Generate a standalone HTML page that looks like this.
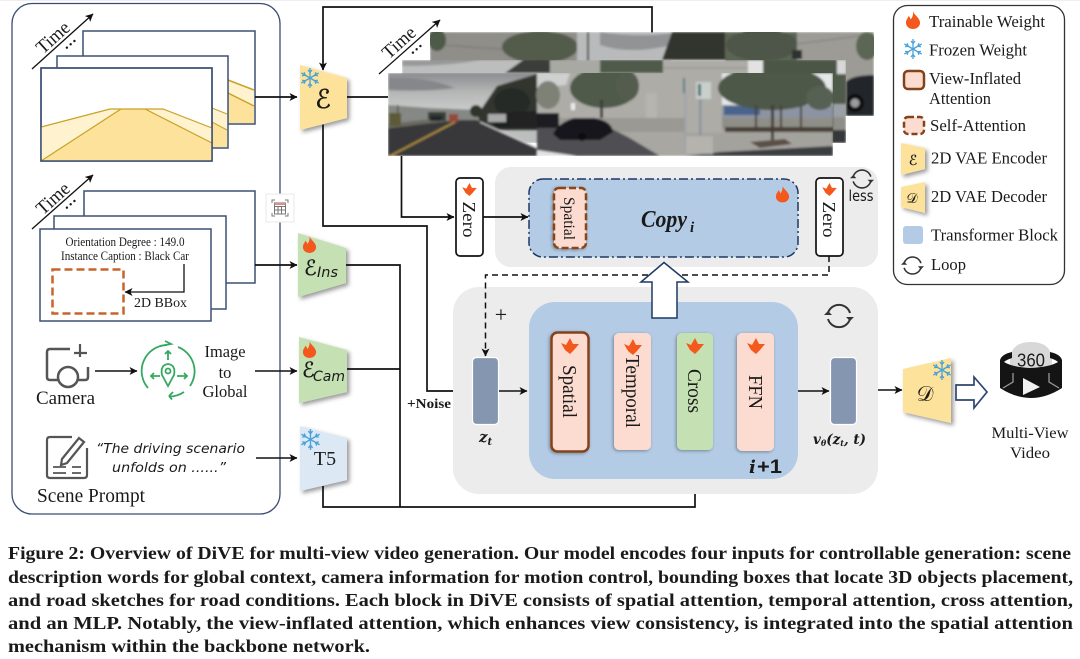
<!DOCTYPE html>
<html><head><meta charset="utf-8"><style>
html,body{margin:0;padding:0;background:#fff;width:1080px;height:659px;overflow:hidden}
svg{display:block;filter:blur(.35px)}
text{font-family:"Liberation Serif",serif;fill:#1a1a1a}
</style></head><body>
<svg width="1080" height="659" viewBox="0 0 1080 659" xmlns="http://www.w3.org/2000/svg">
<defs>
<marker id="a" markerWidth="10" markerHeight="10" refX="7.500" refY="4" orient="auto" markerUnits="userSpaceOnUse"><path d="M0 0L8 4L0 8L2 4Z" fill="#111"/></marker>
<symbol id="fl" viewBox="0 0 16 18" overflow="visible"><path d="M8 0C9 4 14 6 15 11C15.500 15 12 18 8 18C4 18 .5 15 1 11C1.300 8.500 3 7 3.500 5C5 6 5.500 7.500 5.500 8.500C7.500 6.500 8.500 3.500 8 0Z" fill="#f4581c"/></symbol>
<symbol id="fl2" viewBox="0 0 18 16" overflow="visible"><path d="M0 5L5 7L9 0L12 6L18 6L13 12L9 16L4 12Z" fill="#f4581c"/></symbol>
<symbol id="sn" viewBox="-10 -10 20 20" overflow="visible"><g stroke="#4aa3d8" stroke-width="1.300" fill="none"><path d="M0-10V10M-2-8L0-5.500L2-8M-2 8L0 5.500L2 8"/><path transform="rotate(60)" d="M0-10V10M-2-8L0-5.500L2-8M-2 8L0 5.500L2 8"/><path transform="rotate(120)" d="M0-10V10M-2-8L0-5.500L2-8M-2 8L0 5.500L2 8"/></g></symbol>
<symbol id="lp" viewBox="-15 -15 30 30" overflow="visible"><g fill="none" stroke="#333" stroke-width="2"><path d="M-11 -3A11.500 11.500 0 0 1 11 -3"/><path d="M11 3A11.500 11.500 0 0 1 -11 3"/></g><path d="M-15 -1L-11 -5L-7 -1ZM15 1L11 5L7 1Z" fill="#333"/></symbol>
<filter id="s" x="-20%" y="-20%" width="150%" height="150%"><feDropShadow dx="2.500" dy="2.500" stdDeviation="2" flood-color="#000" flood-opacity=".4"/></filter>
<filter id="s2" x="-30%" y="-20%" width="160%" height="140%"><feDropShadow dx="-1" dy="1" stdDeviation="1.500" flood-color="#000" flood-opacity=".35"/></filter>
<filter id="b1" x="-2%" y="-5%" width="104%" height="110%"><feGaussianBlur stdDeviation="1"/></filter>
<linearGradient id="sky" x1="0" y1="0" x2="0" y2="1"><stop offset="0" stop-color="#8a8c8e"/><stop offset=".35" stop-color="#b5b6b6"/><stop offset="1" stop-color="#dedede"/></linearGradient>
<clipPath id="cf"><rect x="388" y="73" width="445" height="83"/></clipPath>
<clipPath id="cm"><rect x="402" y="60" width="444" height="83"/></clipPath>
<clipPath id="cb"><rect x="430" y="32" width="444" height="84"/></clipPath>
</defs>
<rect width="1080" height="1" fill="#eee"/>

<!-- left panel -->
<rect x="12" y="3.500" width="268" height="510.500" rx="20" fill="#fff" stroke="#3a4d73" stroke-width="1.300"/>

<!-- road stacks -->
<g stroke="#3d5074" stroke-width="1.500">
<rect x="83" y="31" width="172" height="93" fill="#fff"/>
<path d="M228 80L254 90V123H228Z" fill="#fde29c" stroke="none"/>
<path d="M228 80L254 90V106L228 93Z" fill="#fef2cf" stroke="none"/>
<path d="M228 80L254 90M228 93L254 106" stroke="#c9a227" fill="none"/>
<rect x="57" y="56" width="171" height="92" fill="#fff"/>
<path d="M212 108L227 114V147H212Z" fill="#fde29c" stroke="none"/>
<path d="M212 108L227 114V130L212 122Z" fill="#fef2cf" stroke="none"/>
<path d="M212 108L227 114M212 122L227 130" stroke="#c9a227" fill="none" stroke-width="1"/>
<rect x="41" y="68" width="171" height="93" fill="#fff"/>
</g>
<path d="M41 127L110 109H163L212 128V143L145 109H121L41 161Z" fill="#fef2cf"/>
<path d="M41 161L121 109H145L212 143V161Z" fill="#fde29c"/>
<path d="M41 127L110 109H163L212 128M41 161L121 109H145L212 143" fill="none" stroke="#c9a227" stroke-width="1.200"/>
<rect x="41" y="68" width="171" height="93" fill="none" stroke="#3d5074" stroke-width="1.500"/>

<line x1="32" y1="69" x2="93" y2="14" stroke="#111" stroke-width="1.300" marker-end="url(#a)"/>
<text transform="translate(57,42) rotate(-42)" font-size="19" text-anchor="middle" textLength="38" lengthAdjust="spacingAndGlyphs">Time</text>
<text transform="translate(74,48) rotate(-42)" font-size="15" text-anchor="middle" font-weight="bold">···</text>

<line x1="32" y1="229" x2="93" y2="175" stroke="#111" stroke-width="1.300" marker-end="url(#a)"/>
<text transform="translate(57,203) rotate(-42)" font-size="19" text-anchor="middle" textLength="38" lengthAdjust="spacingAndGlyphs">Time</text>
<text transform="translate(74,208) rotate(-42)" font-size="15" text-anchor="middle" font-weight="bold">···</text>

<g fill="#fff" stroke="#3d5074" stroke-width="1.500">
<rect x="84" y="191" width="171" height="92"/>
<rect x="54" y="216" width="172" height="93"/>
<rect x="40" y="229" width="171" height="92"/>
</g>
<text x="125" y="246" font-size="12.500" text-anchor="middle" textLength="119" lengthAdjust="spacingAndGlyphs">Orientation Degree : 149.0</text>
<text x="125" y="260" font-size="12.500" text-anchor="middle" textLength="128" lengthAdjust="spacingAndGlyphs">Instance Caption : Black Car</text>
<rect x="52.500" y="269.500" width="71" height="44" fill="none" stroke="#c8642a" stroke-width="2.500" stroke-dasharray="8 4"/>
<path d="M184 264V292H125" fill="none" stroke="#111" stroke-width="1.300" marker-end="url(#a)"/>
<text x="134" y="307" font-size="14" textLength="53" lengthAdjust="spacingAndGlyphs">2D BBox</text>

<!-- calc icon -->
<rect x="266" y="194" width="28" height="28" fill="#fff" stroke="#e8e8e8"/>
<g fill="none" stroke="#777" stroke-width="1"><path d="M272 203V200H275M285 200H288V203M288 213V216H285M275 216H272V213"/><rect x="274.500" y="203" width="11" height="11"/><path d="M274.500 206.500H285.500M274.500 210H285.500M278 206.500V214M281.500 206.500V214"/></g>
<rect x="274.500" y="203" width="11" height="2" fill="#e58a8a"/>

<!-- camera -->
<g fill="none" stroke="#555" stroke-width="2.500">
<path d="M70 349H50Q47 349 47 352V377Q47 380 50 380H59M78 380H85Q88 380 88 377V367"/>
<circle cx="68" cy="377" r="10"/>
<path d="M80 345V358M74 354H87" stroke-width="2.200" transform="translate(0,-1)"/>
</g>
<text x="65.500" y="404" font-size="19" text-anchor="middle" textLength="59" lengthAdjust="spacingAndGlyphs">Camera</text>
<line x1="95" y1="371" x2="137" y2="371" stroke="#111" stroke-width="1.500" marker-end="url(#a)"/>
<!-- global -->
<g fill="none" stroke="#35a862" stroke-width="1.800">
<path d="M148 388A26 26 0 0 1 167 345"/>
<path d="M178 347A26 26 0 0 1 190 386M169 396.500A26 26 0 0 0 184 392"/>
<path d="M160 346L171 344L165 341M169 396L172 399.500M169 396L173 392"/>
<path d="M168 360V351M165 354L168 351L171 354M160 376H151M154 373L151 376L154 379M177 376H187M184 373L187 376L184 379"/>
<path d="M168 386L162 375Q160 365 168 364Q176 365 174 375Z"/><circle cx="168" cy="371" r="2.500"/>
</g>
<text x="225" y="357" font-size="16.500" text-anchor="middle" textLength="41" lengthAdjust="spacingAndGlyphs">Image</text>
<text x="225" y="378" font-size="16.500" text-anchor="middle">to</text>
<text x="225" y="397" font-size="16.500" text-anchor="middle" textLength="45" lengthAdjust="spacingAndGlyphs">Global</text>
<line x1="255" y1="371" x2="297" y2="371" stroke="#111" stroke-width="1.500" marker-end="url(#a)"/>
<!-- prompt -->
<g fill="none" stroke="#555" stroke-width="2.200">
<path d="M72 437H50Q47 437 47 440V475Q47 478 50 478H84Q87 478 87 475V448"/>
<path d="M62 459L79 438L84 442L67 463L61 465Z" fill="#fff"/>
<path d="M53 467H66M72 467H81M53 473H66M72 473H81" stroke-width="1.700"/>
</g>
<text x="96" y="453" font-size="13" style="font-family:'DejaVu Sans',sans-serif;font-style:italic" textLength="149" lengthAdjust="spacingAndGlyphs">“The driving scenario</text>
<text x="112" y="472" font-size="13" style="font-family:'DejaVu Sans',sans-serif;font-style:italic" textLength="114" lengthAdjust="spacingAndGlyphs">unfolds on ......”</text>
<text x="37" y="502" font-size="20" textLength="108" lengthAdjust="spacingAndGlyphs">Scene Prompt</text>
<line x1="256" y1="458" x2="297" y2="458" stroke="#111" stroke-width="1.500" marker-end="url(#a)"/>

<!-- encoders -->
<g filter="url(#s)">
<path d="M300 65L347 78V118L300 130Z" fill="#fde29c"/>
<path d="M298 233L346 248V283L298 297Z" fill="#c5e0b3"/>
<path d="M299 337L347 350V392L299 403Z" fill="#c5e0b3"/>
<path d="M300 426L347 438V480L300 491Z" fill="#dce9f5"/>
</g>
<!-- connectors -->
<g fill="none" stroke="#111" stroke-width="1.700">
<path d="M652 33V7H323V70" marker-end="url(#a)"/>
<path d="M323 124.500V226H427V391H470" marker-end="url(#a)"/>
<path d="M347 97H388"/>
<path d="M255 97H297" marker-end="url(#a)"/>
<path d="M255 265H297" marker-end="url(#a)"/>
<path d="M346 265H400V507"/>
<path d="M347 369H400"/>
<path d="M323 486V507H695V452" marker-end="url(#a)"/>
</g>
<use href="#sn" x="300" y="68" width="20" height="20"/>
<use href="#fl" x="302" y="236" width="15" height="17"/>
<use href="#fl" x="302" y="341" width="15" height="17"/>
<use href="#sn" x="300" y="429" width="21" height="21"/>
<text x="323" y="108" font-size="26" text-anchor="middle" style="font-family:'DejaVu Sans',sans-serif" stroke="#111" stroke-width=".4">ℰ</text>
<text x="304" y="275" font-size="21" style="font-family:'DejaVu Sans',sans-serif" stroke="#111" stroke-width=".3">ℰ</text>
<text x="317" y="277" font-size="14" style="font-family:'DejaVu Sans',sans-serif;font-style:italic" textLength="21" lengthAdjust="spacingAndGlyphs">Ins</text>
<text x="302" y="377" font-size="21" style="font-family:'DejaVu Sans',sans-serif" stroke="#111" stroke-width=".3">ℰ</text>
<text x="313" y="381" font-size="14" style="font-family:'DejaVu Sans',sans-serif;font-style:italic" textLength="32" lengthAdjust="spacingAndGlyphs">Cam</text>
<text x="325" y="465" font-size="20" text-anchor="middle">T5</text>
<text x="407" y="408" font-size="14" font-weight="bold" textLength="44" lengthAdjust="spacingAndGlyphs">+Noise</text>

<!-- photo stack: back layer -->
<g clip-path="url(#cb)"><g filter="url(#b1)">
<rect x="430" y="32" width="147" height="84" fill="#8f8e88"/>
<path d="M430 44L540 52" stroke="#77766f" stroke-width="1"/>
<ellipse cx="540" cy="47" rx="38" ry="16" fill="#525c4c"/>
<ellipse cx="437" cy="40" rx="9" ry="11" fill="#4e5a47"/>
<rect x="577" y="32" width="95" height="84" fill="#b9babb"/>
<path d="M600 32Q640 38 672 33V45Q630 55 600 45Z" fill="#929394"/>
<rect x="587" y="32" width="2" height="30" fill="#4d4a44"/>
<path d="M662 60L672 32H726V60Z" fill="#33362f"/>
<rect x="725" y="32" width="72" height="84" fill="#5b6555"/>
<ellipse cx="762" cy="45" rx="36" ry="16" fill="#4d5749"/>
<rect x="797" y="32" width="77" height="84" fill="#9c9b95"/>
<path d="M797 44L874 34" stroke="#7f7e78" stroke-width="1"/>
<rect x="792" y="50" width="10" height="9" fill="#2f302d"/>
<ellipse cx="867" cy="46" rx="11" ry="14" fill="#5c6655"/>
<path d="M846 82Q852 75 874 75V116H846Z" fill="#24272a"/>
<circle cx="855" cy="103" r="9" fill="#111"/><circle cx="855" cy="103" r="4.500" fill="#9c9c9c"/>
</g></g>
<!-- middle layer -->
<g clip-path="url(#cm)"><g filter="url(#b1)">
<rect x="402" y="60" width="148" height="83" fill="#bcbdbd"/>
<path d="M402 60H480Q450 66 402 66Z" fill="#97999a"/>
<path d="M505 73L523 60H550V73Z" fill="#3a3d3a"/>
<rect x="550" y="60" width="113" height="83" fill="#a9a9a4"/>
<rect x="600" y="60" width="63" height="13" fill="#4f5a4b"/>
<rect x="663" y="60" width="85" height="83" fill="#adaca7"/>
<path d="M663 68H748" stroke="#8f8e88"/>
<rect x="748" y="60" width="16" height="83" fill="#e2e2e2"/>
<rect x="763" y="60" width="74" height="83" fill="#4c5647"/>
<rect x="837" y="60" width="9" height="14" fill="#d8d8d8"/>
<rect x="833" y="74" width="13" height="30" fill="#4f5a4b"/>
<rect x="833" y="104" width="13" height="13" fill="#9aa0a6"/>
<rect x="833" y="117" width="13" height="13" fill="#8f8f88"/>
<rect x="833" y="130" width="13" height="13" fill="#36383b"/>
</g></g>
<!-- front layer -->
<g clip-path="url(#cf)"><g filter="url(#b1)">
<!-- street -->
<rect x="388" y="73" width="149" height="55" fill="url(#sky)"/>
<path d="M388 78Q425 76 455 88Q425 92 388 90Z" fill="#85878a"/>
<path d="M388 105L430 108L478 110V125H388Z" fill="#858884"/>
<path d="M478 116L482 108L497 86L537 74V130H480Z" fill="#33362f"/>
<ellipse cx="476" cy="111" rx="6" ry="6" fill="#2e342c"/>
<ellipse cx="512" cy="102" rx="18" ry="14" fill="#262b26"/>
<rect x="397" y="105" width="1.500" height="20" fill="#55544e"/>
<rect x="428" y="112" width="18" height="9" fill="#383c36"/>
<path d="M388 128L457 120H477L537 148V156H388Z" fill="#37383a"/>
<path d="M388 124L440 118V122L388 128Z" fill="#6b6a60"/>
<rect x="389" y="113" width="12" height="13" fill="#5d5a38"/>
<rect x="449" y="114" width="9" height="8" fill="#94493a"/>
<rect x="430" y="116" width="12" height="5" fill="#24262a"/>
<path d="M488 113H500L537 111V128H495Z" fill="#1e2023"/>
<rect x="488" y="114" width="18" height="8" fill="#a9a9a9"/>
<rect x="510" y="113" width="27" height="14" fill="#202124"/>
<path d="M390 156L455 122" stroke="#b39237" stroke-width="1.800"/>
<path d="M480 122L537 148" stroke="#d8d8d8" stroke-width="1.200"/>
<!-- wall -->
<rect x="537" y="73" width="148" height="83" fill="#adaca7"/>
<path d="M537 73H570L566 85L537 88Z" fill="#cfd0d0"/>
<ellipse cx="548" cy="95" rx="12" ry="14" fill="#7d8176"/>
<ellipse cx="604" cy="88" rx="34" ry="20" fill="#4f5a4c"/>
<rect x="600" y="100" width="3" height="22" fill="#3f3d38"/>
<ellipse cx="627" cy="86" rx="12" ry="15" fill="#525c4e"/>
<rect x="571" y="103" width="4" height="7" fill="#ececec"/>
<rect x="646" y="93" width="11" height="25" fill="#b6b5af"/>
<rect x="537" y="118" width="148" height="14" fill="#9a9993"/>
<rect x="537" y="113" width="22" height="20" fill="#1d1f22"/>
<path d="M537 132H685V156H537Z" fill="#a8a7a2"/>
<path d="M537 128H610L628 137L660 156H537Z" fill="#4f5053"/>
<path d="M553 134Q558 123 574 118H594Q612 121 613 132L600 140H560Z" fill="#16181b"/>
<circle cx="582" cy="137" r="4" fill="#0e0f10"/>
<path d="M537 150L577 156H537Z" fill="#e2e2e2"/>
<rect x="683" y="78" width="3" height="15" fill="#4f7f82"/>
<!-- trees -->
<rect x="685" y="73" width="148" height="83" fill="#a3a29d"/>
<rect x="685" y="73" width="37" height="60" fill="#adaca7"/>
<rect x="696" y="82" width="15" height="17" fill="#c9d0cc"/>
<rect x="698" y="84" width="3" height="12" fill="#3c7377"/>
<rect x="722" y="73" width="111" height="35" fill="#e4e6e8"/>
<rect x="722" y="105" width="111" height="13" fill="#8c94a3"/>
<path d="M724 106H760V115H724Z" fill="#48648c"/>
<ellipse cx="772" cy="88" rx="54" ry="22" fill="#4d5849"/>
<ellipse cx="820" cy="98" rx="14" ry="12" fill="#566052"/>
<rect x="722" y="118" width="111" height="11" fill="#8f8f88"/>
<rect x="725" y="127" width="108" height="5" fill="#4a4038"/>
<rect x="755" y="105" width="2" height="24" fill="#4a4036"/>
<rect x="771" y="105" width="3" height="38" fill="#443c32"/>
<rect x="780" y="105" width="2" height="24" fill="#4a4036"/>
<rect x="800" y="105" width="2" height="24" fill="#4a4036"/>
<path d="M750 142L785 139L792 144L760 148Z" fill="#5b5044"/>
<path d="M685 156L720 152L833 146V156Z" fill="#3b3c3f"/>
<rect x="684.500" y="93" width="1.500" height="59" fill="#9aa1ab"/>
<rect x="699" y="99" width="2.500" height="53" fill="#8d95a0"/>
<rect x="686" y="136" width="27" height="18" fill="#b4b3ae"/>
</g></g>
<line x1="379" y1="74" x2="440" y2="20" stroke="#111" stroke-width="1.300" marker-end="url(#a)"/>
<text transform="translate(403,47) rotate(-42)" font-size="19" text-anchor="middle" textLength="38" lengthAdjust="spacingAndGlyphs">Time</text>
<text transform="translate(420,53) rotate(-42)" font-size="15" text-anchor="middle" font-weight="bold">···</text>
<path d="M401.500 156V217H454" fill="none" stroke="#111" stroke-width="1.700" marker-end="url(#a)"/>

<!-- upper panel -->
<rect x="495" y="167" width="383" height="100" rx="16" fill="#ececec"/>
<rect x="529" y="179" width="269" height="78" rx="14" fill="#b3cbe5" stroke="#1f3864" stroke-width="1.500" stroke-dasharray="9 3 2 3"/>
<rect x="554" y="188" width="32" height="60" rx="5" fill="#fcdcd0" stroke="#8b4513" stroke-width="2.500" stroke-dasharray="7 3" filter="url(#s2)"/>
<text transform="translate(564,218.500) rotate(90)" font-size="16" text-anchor="middle" textLength="43" lengthAdjust="spacingAndGlyphs">Spatial</text>
<text x="641" y="227" font-size="24" font-weight="bold" font-style="italic" textLength="46" lengthAdjust="spacingAndGlyphs">Copy</text>
<text x="690" y="232" font-size="15" font-weight="bold" font-style="italic">i</text>
<use href="#fl" x="775" y="185" width="15" height="18"/>
<rect x="456" y="178" width="27" height="78" rx="4" fill="#fff" stroke="#111" stroke-width="1.700"/>
<rect x="816" y="178" width="27" height="78" rx="4" fill="#fff" stroke="#111" stroke-width="1.700"/>
<use href="#fl2" x="462" y="183" width="15" height="13"/>
<use href="#fl2" x="822" y="183" width="15" height="13"/>
<text transform="translate(463,219.500) rotate(90)" font-size="18" text-anchor="middle" textLength="36" lengthAdjust="spacingAndGlyphs">Zero</text>
<text transform="translate(823,219.500) rotate(90)" font-size="18" text-anchor="middle" textLength="36" lengthAdjust="spacingAndGlyphs">Zero</text>
<line x1="483" y1="217" x2="528" y2="217" stroke="#111" stroke-width="1.700" marker-end="url(#a)"/>
<use href="#lp" x="850" y="167" width="24" height="24"/>
<text x="861" y="201" font-size="15" text-anchor="middle" style="font-family:'DejaVu Sans',sans-serif" textLength="25" lengthAdjust="spacingAndGlyphs">less</text>

<!-- lower panel -->
<rect x="453" y="287" width="425" height="207" rx="26" fill="#ececec"/>
<rect x="529" y="302" width="269" height="177" rx="26" fill="#b3cbe5"/>
<path d="M829 256V275H485.500V356" fill="none" stroke="#111" stroke-width="1.500" stroke-dasharray="6 4" marker-end="url(#a)"/>
<text x="501" y="322" font-size="22" text-anchor="middle">+</text>
<path d="M652 318V282H641L664 262.500L688 282H677V318Z" fill="#fff" stroke="#1f3864" stroke-width="1.500"/>

<rect x="551.500" y="332.500" width="37" height="119" rx="6" fill="#fcdcd0" stroke="#84421a" stroke-width="2.500" filter="url(#s2)"/>
<rect x="614" y="333" width="37" height="117" rx="5" fill="#fcdcd0" filter="url(#s2)"/>
<rect x="677" y="333" width="36" height="117" rx="5" fill="#c5e0b3" filter="url(#s2)"/>
<rect x="737" y="333" width="37" height="118" rx="5" fill="#fcdcd0" filter="url(#s2)"/>
<use href="#fl2" x="561" y="338" width="18" height="16"/>
<use href="#fl2" x="624" y="339" width="18" height="16"/>
<use href="#fl2" x="686" y="338" width="18" height="16"/>
<use href="#fl2" x="747" y="338" width="18" height="16"/>
<text transform="translate(563,391.500) rotate(90)" font-size="20" text-anchor="middle" textLength="53" lengthAdjust="spacingAndGlyphs">Spatial</text>
<text transform="translate(626,391.500) rotate(90)" font-size="20" text-anchor="middle" textLength="73" lengthAdjust="spacingAndGlyphs">Temporal</text>
<text transform="translate(688,391) rotate(90)" font-size="20" text-anchor="middle" textLength="44" lengthAdjust="spacingAndGlyphs">Cross</text>
<text transform="translate(749,392) rotate(90)" font-size="20" text-anchor="middle" textLength="34" lengthAdjust="spacingAndGlyphs">FFN</text>
<text x="749" y="473" font-size="18" style="font-family:'DejaVu Serif',serif;font-weight:bold;font-style:italic">i</text>
<text x="757" y="473" font-size="19" font-weight="bold" style="font-family:'Liberation Sans',sans-serif" textLength="25" lengthAdjust="spacingAndGlyphs">+1</text>

<rect x="472.500" y="357.500" width="26" height="67" rx="4" fill="#8496b0" stroke="#fff" stroke-width="1.200"/>
<rect x="830.500" y="357.500" width="26" height="67" rx="4" fill="#8496b0" stroke="#fff" stroke-width="1.200"/>
<text x="479" y="442" font-size="15" font-weight="bold" font-style="italic" style="font-family:'DejaVu Serif',serif">z<tspan font-size="10" dy="3">t</tspan></text>
<text x="813" y="444" font-size="13.500" font-weight="bold" font-style="italic" style="font-family:'DejaVu Serif',serif">v<tspan font-size="8" dy="2">θ</tspan><tspan dy="-2">(z</tspan><tspan font-size="8" dy="2">t</tspan><tspan dy="-2">, t)</tspan></text>
<line x1="499" y1="391" x2="527" y2="391" stroke="#111" stroke-width="1.500" marker-end="url(#a)"/>
<line x1="798" y1="391" x2="829" y2="391" stroke="#111" stroke-width="1.500" marker-end="url(#a)"/>
<use href="#lp" x="824" y="301" width="30" height="30"/>
<line x1="878" y1="390" x2="902" y2="390" stroke="#111" stroke-width="1.500" marker-end="url(#a)"/>

<!-- decoder -->
<path d="M903 369L951 358V423L903 412Z" fill="#fde29c" filter="url(#s)"/>
<use href="#sn" x="932" y="360" width="20" height="20"/>
<text x="925" y="401" font-size="21" text-anchor="middle">𝒟</text>
<path d="M956 385H974V377L987 392L974 408V400H956Z" fill="#fff" stroke="#2f4670" stroke-width="1.700"/>
<!-- 360 -->
<path d="M1010 372V358Q1012 342 1031 342Q1050 342 1052 358V372Z" fill="#d8d8d8"/>
<path d="M1000 360Q1002 354 1012 352V358Q1006 360 1004 362Q1012 367 1030 368Q1050 367 1058 362Q1056 360 1050 358V352Q1060 354 1062 360V388Q1031 408 1000 388Z" fill="#141414"/>
<path d="M1003 388L1013 382V373M1059 388L1049 382V373" fill="none" stroke="#999" stroke-width="1.300"/>
<path d="M1023 378L1040 387L1023 395Z" fill="#f2f2f2"/>
<text x="1031" y="366.500" font-size="18" text-anchor="middle" style="font-family:'Liberation Sans',sans-serif" textLength="28" lengthAdjust="spacingAndGlyphs">360</text>
<text x="1030" y="438" font-size="16" text-anchor="middle" textLength="77" lengthAdjust="spacingAndGlyphs">Multi-View</text>
<text x="1030" y="458" font-size="16" text-anchor="middle" textLength="40" lengthAdjust="spacingAndGlyphs">Video</text>

<!-- legend -->
<rect x="893.500" y="5.500" width="171" height="279" rx="14" fill="#fff" stroke="#333" stroke-width="1.300"/>
<use href="#fl" x="905" y="11" width="16" height="18"/>
<use href="#sn" x="903" y="39" width="20" height="20"/>
<text x="929" y="27" font-size="17" textLength="116" lengthAdjust="spacingAndGlyphs">Trainable Weight</text>
<text x="929" y="55.500" font-size="17" textLength="98" lengthAdjust="spacingAndGlyphs">Frozen Weight</text>
<text x="929" y="84" font-size="17" textLength="92" lengthAdjust="spacingAndGlyphs">View-Inflated</text>
<text x="929" y="104" font-size="17" textLength="62" lengthAdjust="spacingAndGlyphs">Attention</text>
<rect x="904" y="71" width="20" height="18" rx="4" fill="#fcdcd0" stroke="#84421a" stroke-width="2.500"/>
<rect x="904" y="117" width="20" height="17" rx="4" fill="#fcdcd0" stroke="#84421a" stroke-width="2.500" stroke-dasharray="6 3"/>
<text x="930" y="131" font-size="17" textLength="96" lengthAdjust="spacingAndGlyphs">Self-Attention</text>
<path d="M901 143L925 148V169L901 175Z" fill="#fde29c" filter="url(#s)"/>
<text x="913" y="165" font-size="14" text-anchor="middle" style="font-family:'DejaVu Sans',sans-serif" stroke="#111" stroke-width=".2">ℰ</text>
<text x="931" y="163.500" font-size="17" textLength="116" lengthAdjust="spacingAndGlyphs">2D VAE Encoder</text>
<path d="M901 187L925 182V213L901 207Z" fill="#fde29c" filter="url(#s)"/>
<text x="912" y="203" font-size="14" text-anchor="middle">𝒟</text>
<text x="931" y="202" font-size="17" textLength="116" lengthAdjust="spacingAndGlyphs">2D VAE Decoder</text>
<rect x="903" y="226" width="20" height="18" rx="3" fill="#b3cbe5"/>
<text x="931" y="240.500" font-size="17" textLength="127" lengthAdjust="spacingAndGlyphs">Transformer Block</text>
<use href="#lp" x="901" y="254" width="23" height="23"/>
<text x="931" y="270" font-size="17" textLength="35" lengthAdjust="spacingAndGlyphs">Loop</text>

<!-- caption -->
<text x="8" y="559" font-size="18" font-weight="bold" fill="#111" textLength="1063" lengthAdjust="spacingAndGlyphs">Figure 2: Overview of DiVE for multi-view video generation. Our model encodes four inputs for controllable generation: scene</text>
<text x="8" y="583" font-size="18" font-weight="bold" fill="#111" textLength="1065" lengthAdjust="spacingAndGlyphs">description words for global context, camera information for motion control, bounding boxes that locate 3D objects placement,</text>
<text x="8" y="606" font-size="18" font-weight="bold" fill="#111" textLength="1065" lengthAdjust="spacingAndGlyphs">and road sketches for road conditions. Each block in DiVE consists of spatial attention, temporal attention, cross attention,</text>
<text x="8" y="629" font-size="18" font-weight="bold" fill="#111" textLength="1065" lengthAdjust="spacingAndGlyphs">and an MLP. Notably, the view-inflated attention, which enhances view consistency, is integrated into the spatial attention</text>
<text x="8" y="652" font-size="18" font-weight="bold" fill="#111" textLength="362" lengthAdjust="spacingAndGlyphs">mechanism within the backbone network.</text>
</svg>
</body></html>
